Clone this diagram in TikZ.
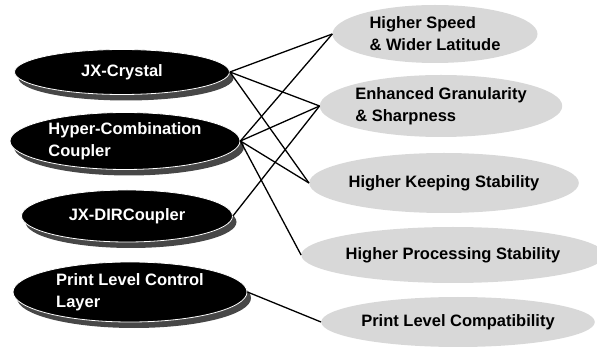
\documentclass[tikz,border=0pt]{standalone}
\usepackage{fontspec}
\setmainfont{Liberation Sans}
\usetikzlibrary{shapes, shadows}
\definecolor{lightgrey}{RGB}{216,216,216}

\begin{document}
\begin{tikzpicture}[
    x=1pt, y=-1pt,
    feature/.style={ellipse, inner sep=0pt, align=left, font=\fontsize{16.5}{22}\selectfont\bfseries},
    tech/.style={feature, fill=black, draw=white, line width=0.8pt, text=white,
        drop shadow={shadow xshift=4pt, shadow yshift=-6pt, fill=black!72, opacity=1}},
    merit/.style={feature, fill=lightgrey, text=black},
    link/.style={line width=1.3pt}
]
\useasboundingbox (0,0) rectangle (597,347);

% Technologies
\node[tech, minimum width=215pt, minimum height=45pt] (jxc) at (122,72) {JX-Crystal};
\node[tech, minimum width=230pt, minimum height=57pt] (hcc) at (125,141) {Hyper-Combination\\Coupler};
\node[tech, minimum width=211pt, minimum height=52pt] (dir) at (127,216) {JX-DIRCoupler};
\node[tech, minimum width=234pt, minimum height=60pt] (plcl) at (130,292) {Print Level Control\\Layer};

% Benefits
\node[merit, minimum width=205pt, minimum height=58pt] (hs) at (435,34) {Higher Speed\\\& Wider Latitude};
\node[merit, minimum width=238pt, minimum height=62pt] (eg) at (441,106) {Enhanced Granularity\\\& Sharpness};
\node[merit, minimum width=245pt, minimum height=60pt] (hks) at (444,183) {Higher Keeping Stability};
\node[merit, minimum width=267pt, minimum height=56pt] (hps) at (453,255) {Higher Processing Stability};
\node[merit, minimum width=260pt, minimum height=50pt] (plc) at (458,322) {Print Level Compatibility};

% Links
\draw[link] (jxc.east) -- (hs.west);
\draw[link] (jxc.east) -- (eg.west);
\draw[link] (jxc.east) -- (hks.west);
\draw[link] (hcc.east) -- (hs.west);
\draw[link] (hcc.east) -- (eg.west);
\draw[link] (hcc.east) -- (hks.west);
\draw[link] (hcc.east) -- (hps.west);
\draw[link] (dir.east) -- (eg.west);
\draw[link] (plcl.east) -- (plc.west);

\end{tikzpicture}
\end{document}
